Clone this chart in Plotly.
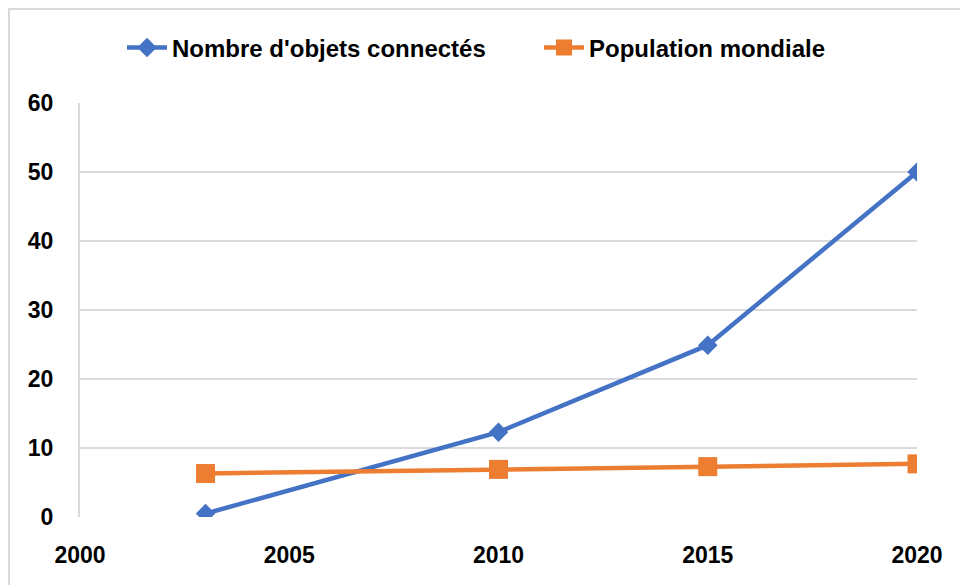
import plotly.graph_objects as go

years_obj = [2003, 2010, 2015, 2020]
objets = [0.5, 12.3, 24.9, 50.0]
years_pop = [2003, 2010, 2015, 2020]
population = [6.3, 6.9, 7.3, 7.7]

x_ticks = [2000, 2005, 2010, 2015, 2020]
y_ticks = [0, 10, 20, 30, 40, 50, 60]

BLUE = "#4472C4"
ORANGE = "#ED7D31"
FONT = "Liberation Sans, Arial, sans-serif"

# page has an 8px body margin; figure is sized to fit the 968x585 window
W, H = 960, 577
L, R, T, B = 72, 51, 95, 68
PW, PH = W - L - R, H - T - B

fig = go.Figure()
fig.add_trace(go.Scatter(
    x=years_obj, y=objets, mode="lines+markers", name="Nombre d'objets connectés",
    line=dict(color=BLUE, width=4.5),
    marker=dict(symbol="diamond", size=15, color=BLUE),
))
fig.add_trace(go.Scatter(
    x=years_pop, y=population, mode="lines+markers", name="Population mondiale",
    line=dict(color=ORANGE, width=4.5),
    marker=dict(symbol="square", size=19, color=ORANGE),
))

fig.update_layout(
    width=W, height=H,
    margin=dict(l=L, r=R, t=T, b=B),
    paper_bgcolor="white", plot_bgcolor="white",
    font=dict(family=FONT, color="black"),
    showlegend=True,
    legend=dict(orientation="h", x=(119 - 5 - L) / PW, xanchor="left",
                y=1 + (T - 40) / PH, yanchor="middle",
                font=dict(size=24, family=FONT, weight="bold"), itemwidth=40,
                entrywidth=362, bgcolor="rgba(0,0,0,0)"),
    xaxis=dict(range=[2000, 2020], tickvals=x_ticks, ticktext=[str(v) for v in x_ticks],
               showgrid=False, zeroline=False, showline=False, ticks="",
               tickfont=dict(size=23, family=FONT, weight="bold"), ticklabelstandoff=22),
    yaxis=dict(range=[0, 60], tickvals=y_ticks, showgrid=True, gridcolor="#D9D9D9", gridwidth=2,
               zeroline=False, showline=True, linecolor="#D9D9D9", linewidth=2, ticks="",
               tickfont=dict(size=23, family=FONT, weight="bold"), ticklabelstandoff=20),
    shapes=[dict(type="rect", xref="paper", yref="paper",
                 x0=(1 - L) / PW, x1=(W + 10 - L) / PW,
                 y0=(H - B - H - 10) / PH, y1=(H - B - 1) / PH,
                 line=dict(color="#D9D9D9", width=2), layer="below")],
)

fig.write_html("out.html")
